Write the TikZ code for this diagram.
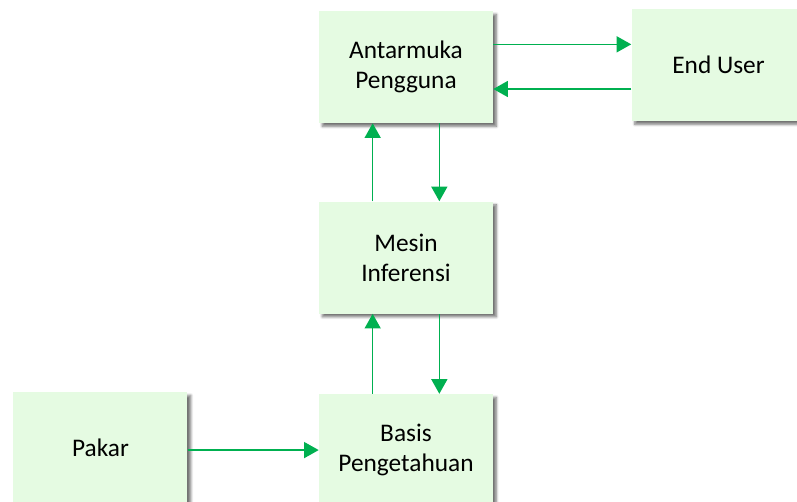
\documentclass[tikz,border=0pt]{standalone}
\usepackage{fontspec}
\setmainfont{Carlito}
\usetikzlibrary{positioning,shadows.blur,arrows.meta}
\definecolor{boxgreen}{RGB}{229,251,226}
\definecolor{arrowgreen}{RGB}{0,176,80}

\begin{document}
\begin{tikzpicture}[x=0.75pt, y=-0.75pt,
        box/.style={fill=boxgreen, shape=rectangle, align=center, minimum width=130.5pt, minimum height=84pt,
                    font=\fontsize{19}{22.5}\selectfont,
                    blur shadow={shadow xshift=2.5pt, shadow yshift=-2.5pt, shadow blur steps=6, shadow opacity=55}},
        link/.style={draw=arrowgreen, line width=1.2pt, -{Triangle[width=12pt, length=11pt]}}]
        \useasboundingbox (0,0) rectangle (797,501);
        \node[box] (ui) at (406,67) {Antarmuka\\Pengguna};
        \node[box] (user) [right=103.5pt of ui, yshift=1.5pt] {End User};
        \node[box] (mesin) [below=58.5pt of ui] {Mesin\\Inferensi};
        \node[box] (basis) [below=60pt of mesin] {Basis\\Pengetahuan};
        \node[box] (pakar) [left=98.25pt of basis, yshift=1.5pt] {Pakar};
        % user interface <-> end user
        \draw ([yshift=17pt]ui.east) edge[link] ([yshift=17pt]ui.east -| user.west)
              ([yshift=-16.5pt]ui.east -| user.west) edge[link] ([yshift=-16.5pt]ui.east);
        % vertical links
        \draw ([xshift=-25pt]mesin.north) edge[link] ([xshift=-25pt]ui.south)
              ([xshift=25pt]ui.south) edge[link] ([xshift=25pt]mesin.north)
              ([xshift=-25pt]basis.north) edge[link] ([xshift=-25pt]mesin.south)
              ([xshift=25pt]mesin.south) edge[link] ([xshift=25pt]basis.north);
        \draw (pakar.east |- basis.west) edge[link] (basis.west);
\end{tikzpicture}
\end{document}
